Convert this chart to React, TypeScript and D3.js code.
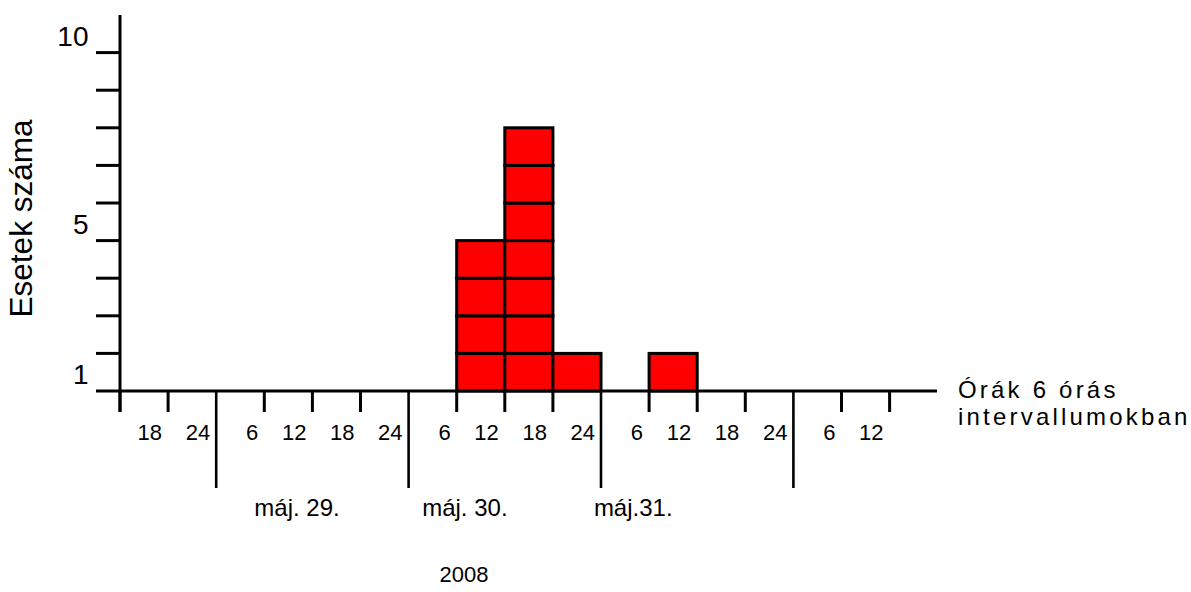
import React from 'react';
import * as d3 from 'd3';

// hour labels under each 6-hour interval, left to right
const hourLabels = ['18', '24', '6', '12', '18', '24', '6', '12', '18', '24', '6', '12', '18', '24', '6', '12'];
// cases per 6-hour interval
const cases = [0, 0, 0, 0, 0, 0, 0, 4, 7, 1, 0, 1, 0, 0, 0, 0];
// interval indexes where a new day starts (long ticks)
const dayBreaks = [2, 6, 10, 14];
const dayLabels = ['máj. 29.', 'máj. 30.', 'máj.31.'];
const dayLabelAt = [3.68, 7.17, 10.67];
const yearLabel = '2008';
const yearAt = 7.15;
const yTicks = [1, 2, 3, 4, 5, 6, 7, 8, 9];
const yLabels = [1, 5, 10];

const W = 1191;
const H = 592;
const FONT = "Arial, 'Liberation Sans', sans-serif";

const App = () => {
  const x = d3.scaleLinear().domain([0, hourLabels.length]).range([120, 889.6]);
  const y = d3.scaleLinear().domain([0, 10]).range([391, 15]);
  const ticks = d3.range(hourLabels.length + 1);

  const boxes: { k: number; j: number }[] = [];
  cases.forEach((c, k) => {
    for (let j = 0; j < c; j++) boxes.push({ k, j });
  });

  return (
    <div style={{ position: 'absolute', left: 0, top: 0 }}>
      <svg width={W} height={H} style={{ display: 'block', background: '#fff' }} fontFamily={FONT}>
        {/* stacked case boxes */}
        {boxes.map((b, i) => (
          <rect
            key={i}
            x={x(b.k)}
            y={y(b.j + 1)}
            width={x(b.k + 1) - x(b.k)}
            height={y(b.j) - y(b.j + 1)}
            fill="#ff0000"
            stroke="#000"
            strokeWidth={3}
          />
        ))}

        {/* y axis */}
        <line x1={x(0)} x2={x(0)} y1={y(10)} y2={412} stroke="#000" strokeWidth={3} />
        {yTicks.map(v => (
          <line key={v} x1={96} x2={x(0)} y1={y(v)} y2={y(v)} stroke="#000" strokeWidth={3} />
        ))}
        {yLabels.map(v => (
          <text key={v} x={88.5} y={y(v - 1) - 7} textAnchor="end" fontSize={28} fill="#000">
            {v}
          </text>
        ))}
        <text
          transform={`translate(32, 218.5) rotate(-90)`}
          textAnchor="middle"
          fontSize={31.5}
          fill="#000"
        >
          Esetek száma
        </text>

        {/* x axis */}
        <line x1={96} x2={937} y1={y(0)} y2={y(0)} stroke="#000" strokeWidth={3} />
        {ticks.map(k => {
          const long = dayBreaks.includes(k);
          return (
            <line
              key={k}
              x1={x(k)}
              x2={x(k)}
              y1={y(0)}
              y2={long ? 488 : 412}
              stroke="#000"
              strokeWidth={long ? 2.6 : 3}
            />
          );
        })}
        {hourLabels.map((h, k) => (
          <text key={k} x={x(k + 1) - 6} y={440} textAnchor="end" fontSize={22} fill="#000">
            {h}
          </text>
        ))}
        {dayLabels.map((d, i) => (
          <text key={d} x={x(dayLabelAt[i])} y={516} textAnchor="middle" fontSize={24} fill="#000">
            {d}
          </text>
        ))}
        <text x={x(yearAt)} y={582} textAnchor="middle" fontSize={22} fill="#000">
          {yearLabel}
        </text>

        <text x={958} y={398} fontSize={24} letterSpacing={3.2} fill="#000">
          Órák 6 órás
        </text>
        <text x={958} y={425} fontSize={24} letterSpacing={3.2} fill="#000">
          intervallumokban
        </text>
      </svg>
    </div>
  );
};

export default App;
